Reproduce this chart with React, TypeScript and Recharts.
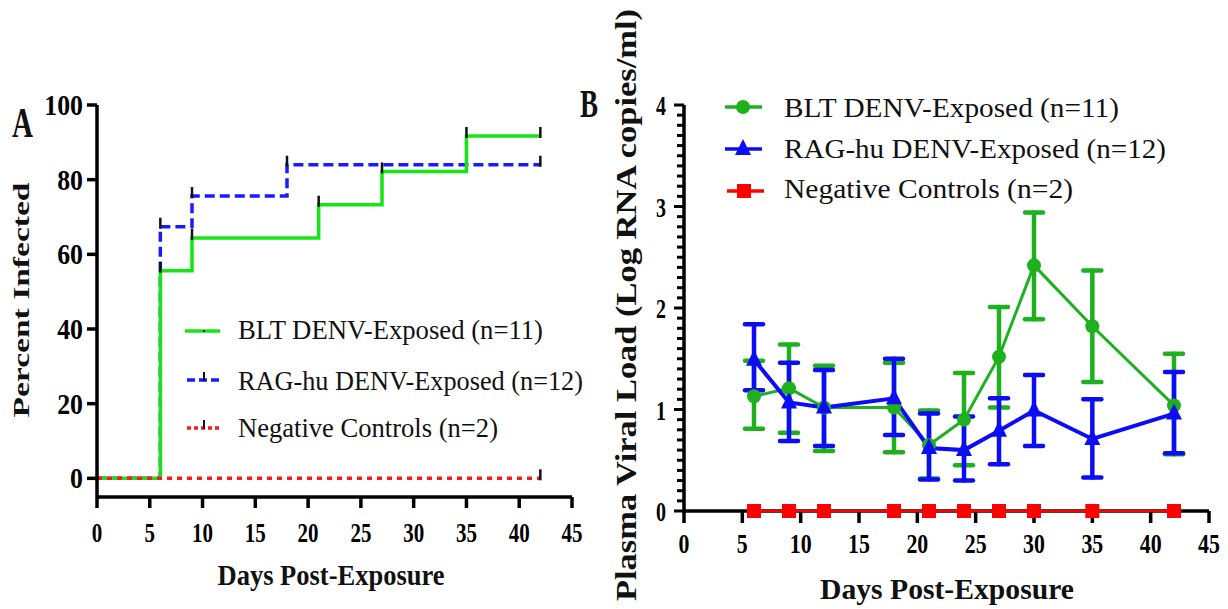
import React from 'react';
import { LineChart, Line, XAxis, YAxis, ErrorBar } from 'recharts';

const SERIF = "'Liberation Serif', 'Times New Roman', serif";

// ---- Panel A: percent infected (step curves) ----
const bltDaysA = [0, 6, 9, 21, 27, 35, 42];
const bltPctA = [0, 55.6, 64.4, 73.3, 82.2, 91.7, 91.7];
const ragDaysA = [0, 6, 9, 18, 42];
const ragPctA = [0, 67.4, 75.6, 84.0, 84.0];
const negDaysA = [0, 42];
const negPctA = [0, 0];
const xTicks = [0, 5, 10, 15, 20, 25, 30, 35, 40, 45];
const yTicksA = [0, 20, 40, 60, 80, 100];

// ---- Panel B: plasma viral load, mean with error bars ----
const daysB = [6, 9, 12, 18, 21, 24, 27, 30, 35, 42];
const bltMean = [1.13, 1.21, 1.02, 1.02, 0.65, 0.9, 1.52, 2.42, 1.82, 1.04];
const bltUpper = [1.48, 1.64, 1.43, 1.46, 0.99, 1.36, 2.01, 2.94, 2.37, 1.55];
const bltLower = [0.81, 0.77, 0.59, 0.58, 0.32, 0.45, 1.02, 1.89, 1.27, 0.56];
const ragMean = [1.49, 1.07, 1.02, 1.11, 0.62, 0.6, 0.79, 0.99, 0.71, 0.96];
const ragUpper = [1.84, 1.46, 1.39, 1.5, 0.96, 0.93, 1.11, 1.34, 1.1, 1.37];
const ragLower = [1.19, 0.69, 0.64, 0.75, 0.31, 0.3, 0.46, 0.64, 0.33, 0.57];
const negMean = [0, 0, 0, 0, 0, 0, 0, 0, 0, 0];
const yTicksB = Array.from({ length: 41 }, (_, i) => i / 10);

const legendLabels = ['BLT DENV-Exposed (n=11)', 'RAG-hu DENV-Exposed (n=12)', 'Negative Controls (n=2)'];

const toPts = (xs: number[], ys: number[]) => xs.map((x, i) => ({ x, y: ys[i] }));
const bltA = toPts(bltDaysA, bltPctA);
const ragA = toPts(ragDaysA, ragPctA);
const negA = toPts(negDaysA, negPctA);

const tableB = daysB.map((day, i) => ({
  day,
  blt: bltMean[i],
  bltErr: [bltMean[i] - bltLower[i], bltUpper[i] - bltMean[i]],
  rag: ragMean[i],
  ragErr: [ragMean[i] - ragLower[i], ragUpper[i] - ragMean[i]],
  neg: negMean[i],
}));

const GREEN_A = '#14e614';
const BLUE_A = '#1a1aff';
const RED_A = '#ff1a1a';
const GREEN_B = '#1eb01e';
const BLUE_B = '#0c0cf5';
const RED_B = '#ff0000';

function TickLabel({ x, y, text, size, sx, anchor }: any) {
  return (
    <text
      transform={`translate(${x},${y}) scale(${sx},1)`}
      textAnchor={anchor}
      fontSize={size}
      fontWeight="bold"
      fontFamily={SERIF}
      fill="#000"
    >
      {text}
    </text>
  );
}

function FitText({ x, y, len, size, bold, anchor = 'start', rotate, children }: any) {
  const transform = rotate ? `translate(${x},${y}) rotate(-90)` : undefined;
  return (
    <text
      x={rotate ? 0 : x}
      y={rotate ? 0 : y}
      transform={transform}
      textAnchor={anchor}
      fontSize={size}
      fontWeight={bold ? 'bold' : 'normal'}
      fontFamily={SERIF}
      textLength={len}
      lengthAdjust="spacingAndGlyphs"
      fill="#111"
    >
      {children}
    </text>
  );
}

const XTickA = (props: any) => {
  const { x, y, payload } = props;
  return (
    <g>
      <line x1={x} y1={y} x2={x} y2={y + 11} stroke="#000" strokeWidth={3.5} />
      <TickLabel x={x} y={y + 45} text={String(payload.value)} size={28} sx={0.75} anchor="middle" />
    </g>
  );
};

const YTickA = (props: any) => {
  const { x, y, payload } = props;
  return (
    <g>
      <line x1={x - 10} y1={y} x2={x} y2={y} stroke="#000" strokeWidth={3.5} />
      <TickLabel x={x - 14} y={y + 10} text={String(payload.value)} size={30} sx={0.86} anchor="end" />
    </g>
  );
};

const XTickB = (props: any) => {
  const { x, y, payload } = props;
  return (
    <g>
      <line x1={x} y1={y} x2={x} y2={y + 12} stroke="#000" strokeWidth={3.5} />
      <TickLabel x={x} y={y + 42} text={String(payload.value)} size={27} sx={0.81} anchor="middle" />
    </g>
  );
};

const YTickB = (props: any) => {
  const { x, y, payload } = props;
  const v = payload.value;
  const major = Math.abs(v - Math.round(v)) < 1e-6;
  return (
    <g>
      <line x1={x - (major ? 10 : 7)} y1={y} x2={x} y2={y} stroke="#000" strokeWidth={3} />
      {major && <TickLabel x={x - 18} y={y + 10} text={String(Math.round(v))} size={27} sx={0.74} anchor="end" />}
    </g>
  );
};

const CensorTick = (props: any) => {
  const { cx, cy, index } = props;
  if (index === 0 || cx == null) return <g key={`c-${index}`} />;
  return <line key={`c-${index}`} x1={cx} y1={cy - 9} x2={cx} y2={cy + 2} stroke="#111" strokeWidth={2.5} />;
};

const Circle = (props: any) => (
  <circle key={`o-${props.index}`} cx={props.cx} cy={props.cy} r={7} fill={GREEN_B} />
);
const Triangle = (props: any) => {
  const { cx, cy, index } = props;
  return <polygon key={`t-${index}`} points={`${cx},${cy - 10} ${cx - 8},${cy + 6} ${cx + 8},${cy + 6}`} fill={BLUE_B} />;
};
const Square = (props: any) => (
  <rect key={`s-${props.index}`} x={props.cx - 7} y={props.cy - 7} width={14} height={14} fill={RED_B} />
);

const axisStroke = { stroke: '#000', strokeWidth: 3.5 };

function PanelA() {
  return (
    <LineChart width={600} height={609} margin={{ top: 105, right: 28, left: 0, bottom: 0 }}>
      <XAxis
        type="number"
        dataKey="x"
        domain={[0, 45]}
        ticks={xTicks}
        interval={0}
        tickSize={0}
        tickMargin={0}
        height={112}
        axisLine={axisStroke}
        tickLine={false}
        tick={<XTickA />}
      />
      <YAxis
        type="number"
        dataKey="y"
        domain={[-5, 100]}
        ticks={yTicksA}
        interval={0}
        tickSize={0}
        tickMargin={0}
        width={97}
        axisLine={axisStroke}
        tickLine={false}
        tick={<YTickA />}
      />
      <Line data={ragA} dataKey="y" type="stepAfter" stroke={BLUE_A} strokeWidth={3.5} strokeDasharray="10 5" dot={CensorTick} activeDot={false} isAnimationActive={false} />
      <Line data={bltA} dataKey="y" type="stepAfter" stroke={GREEN_A} strokeWidth={3.5} dot={CensorTick} activeDot={false} isAnimationActive={false} />
      <Line data={negA} dataKey="y" type="stepAfter" stroke={RED_A} strokeWidth={3.5} strokeDasharray="5 5" dot={CensorTick} activeDot={false} isAnimationActive={false} />
    </LineChart>
  );
}

function PanelB() {
  return (
    <LineChart width={628} height={609} data={tableB} margin={{ top: 105, right: 19, left: 0, bottom: 0 }}>
      <XAxis
        type="number"
        dataKey="day"
        domain={[0, 45]}
        ticks={xTicks}
        interval={0}
        tickSize={0}
        tickMargin={0}
        height={98}
        axisLine={axisStroke}
        tickLine={false}
        tick={<XTickB />}
      />
      <YAxis
        type="number"
        domain={[0, 4]}
        ticks={yTicksB}
        interval={0}
        tickSize={0}
        tickMargin={0}
        width={84}
        axisLine={axisStroke}
        tickLine={false}
        tick={<YTickB />}
      />
      <Line dataKey="blt" stroke={GREEN_B} strokeWidth={3} dot={Circle} activeDot={false} isAnimationActive={false}>
        <ErrorBar dataKey="bltErr" direction="y" width={9} stroke={GREEN_B} strokeWidth={4.5} strokeLinecap="round" />
      </Line>
      <Line dataKey="rag" stroke={BLUE_B} strokeWidth={4} dot={Triangle} activeDot={false} isAnimationActive={false}>
        <ErrorBar dataKey="ragErr" direction="y" width={9} stroke={BLUE_B} strokeWidth={4.5} strokeLinecap="round" />
      </Line>
    </LineChart>
  );
}

// negative controls sit on the x axis; drawn in a transparent layer above the axis line
function PanelBTop() {
  return (
    <LineChart width={628} height={609} data={tableB} margin={{ top: 105, right: 19, left: 84, bottom: 98 }}>
      <XAxis type="number" dataKey="day" domain={[0, 45]} hide />
      <YAxis type="number" domain={[0, 4]} hide />
      <Line dataKey="neg" stroke={RED_B} strokeWidth={2.5} dot={Square} activeDot={false} isAnimationActive={false} />
    </LineChart>
  );
}

function Overlay() {
  const rowsA = [331, 380, 428];
  const baseA = [339, 390, 437];
  const lenA = [305, 345, 260];
  const rowsB = [107, 149, 191];
  const baseB = [117, 158, 198];
  const lenB = [335, 382, 289];
  return (
    <svg width={1228} height={609} style={{ position: 'absolute', left: 0, top: 0, pointerEvents: 'none' }}>
      {/* panel letters */}
      <FitText x={12} y={137} len={21} size={42} bold>A</FitText>
      <FitText x={580} y={117} len={18} size={40} bold>B</FitText>

      {/* axis titles */}
      <FitText x={331} y={585} len={227} size={29} bold anchor="middle">Days Post-Exposure</FitText>
      <FitText x={29} y={300} len={235} size={24} bold anchor="middle" rotate>Percent Infected</FitText>
      <FitText x={947} y={599} len={254} size={29} bold anchor="middle">Days Post-Exposure</FitText>
      <FitText x={636} y={305} len={592} size={29} bold anchor="middle" rotate>Plasma Viral Load (Log RNA copies/ml)</FitText>

      {/* legend A */}
      <line x1={185} y1={rowsA[0]} x2={220} y2={rowsA[0]} stroke={GREEN_A} strokeWidth={3.5} />
      <line x1={187} y1={rowsA[1]} x2={222} y2={rowsA[1]} stroke={BLUE_A} strokeWidth={3.5} strokeDasharray="8 4" />
      <line x1={187} y1={rowsA[2]} x2={222} y2={rowsA[2]} stroke={RED_A} strokeWidth={3.5} strokeDasharray="4 3" />
      {rowsA.map((y, i) => (
        <line key={`lt-${i}`} x1={204} y1={y - (i === 0 ? 1 : 8)} x2={204} y2={y + 1} stroke="#111" strokeWidth={2} />
      ))}
      {legendLabels.map((t, i) => (
        <FitText key={`la-${i}`} x={238} y={baseA[i]} len={lenA[i]} size={28}>{t}</FitText>
      ))}

      {/* legend B */}
      <line x1={725} y1={rowsB[0]} x2={762} y2={rowsB[0]} stroke={GREEN_B} strokeWidth={3.5} />
      <circle cx={743} cy={rowsB[0]} r={7} fill={GREEN_B} />
      <line x1={725} y1={rowsB[1]} x2={762} y2={rowsB[1]} stroke={BLUE_B} strokeWidth={3.5} />
      <polygon points={`743,${rowsB[1] - 10} 735,${rowsB[1] + 6} 751,${rowsB[1] + 6}`} fill={BLUE_B} />
      <line x1={727} y1={rowsB[2]} x2={764} y2={rowsB[2]} stroke={RED_B} strokeWidth={3.5} />
      <rect x={737} y={rowsB[2] - 7} width={14} height={14} fill={RED_B} />
      {legendLabels.map((t, i) => (
        <FitText key={`lb-${i}`} x={784} y={baseB[i]} len={lenB[i]} size={28}>{t}</FitText>
      ))}
    </svg>
  );
}

export default function App() {
  return (
    <div style={{ position: 'absolute', left: 0, top: 0, width: 1228, height: 609, background: '#fff' }}>
      <div style={{ position: 'absolute', left: 0, top: 0 }}>
        <PanelA />
      </div>
      <div style={{ position: 'absolute', left: 600, top: 0 }}>
        <PanelB />
      </div>
      <div style={{ position: 'absolute', left: 600, top: 0 }}>
        <PanelBTop />
      </div>
      <Overlay />
    </div>
  );
}
